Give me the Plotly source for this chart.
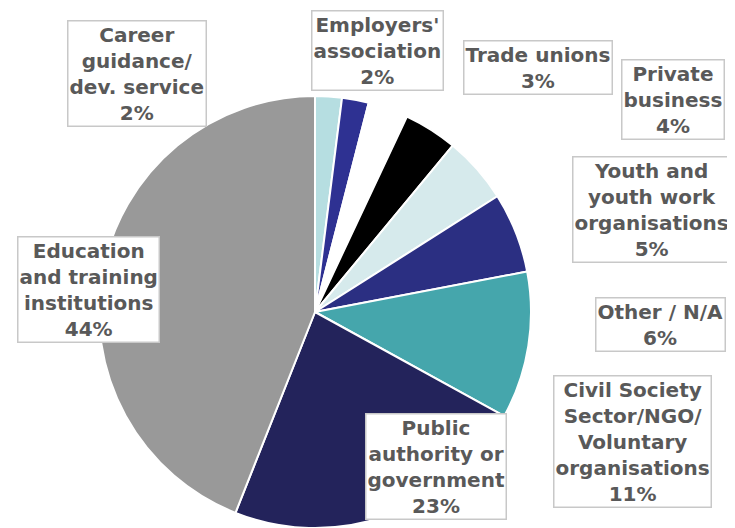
import plotly.graph_objects as go

categories = [
    "Career<br>guidance/<br>dev. service",
    "Employers'<br>association",
    "Trade unions",
    "Private<br>business",
    "Youth and<br>youth work<br>organisations",
    "Other / N/A",
    "Civil Society<br>Sector/NGO/<br>Voluntary<br>organisations",
    "Public<br>authority or<br>government",
    "Education<br>and training<br>institutions",
]
values = [2, 2, 3, 4, 5, 6, 11, 23, 44]
colors = ["#b6dee1", "#2e3192", "#ffffff", "#000000", "#d6eaec",
          "#2b2f82", "#45a6ac", "#23235b", "#999999"]
# label box centres in page pixels (x, y from top)
label_pos = [(137, 73), (378, 50), (538, 67), (673, 99), (651, 210),
             (660, 324), (632, 441), (436, 466), (88, 289)]

OFF = 8  # page body margin
W, H = 735 - OFF, 528 - OFF
cx, cy, r = 315 - OFF, 312 - OFF, 216

fig = go.Figure(go.Pie(
    labels=categories,
    values=values,
    sort=False,
    direction="clockwise",
    rotation=0,
    marker=dict(colors=colors, line=dict(color="white", width=2)),
    textinfo="none",
    hoverinfo="label+percent",
    domain=dict(x=[(cx - r) / W, (cx + r) / W],
                y=[max(0, (H - cy - r) / H), min(1, (H - cy + r) / H)]),
    showlegend=False,
))

for lab, v, (px, py) in zip(categories, values, label_pos):
    fig.add_annotation(
        text=f"{lab}<br>{v}%",
        x=(px - OFF) / W, y=1 - (py - OFF) / H, xref="paper", yref="paper",
        xanchor="center", yanchor="middle", showarrow=False,
        font=dict(family="DejaVu Sans", size=20, color="#595959", weight="bold"),
        bgcolor="white", bordercolor="#c8c8c8", borderwidth=1.5, borderpad=1,
        align="center",
    )

fig.update_layout(
    width=W, height=H,
    margin=dict(l=0, r=0, t=0, b=0),
    paper_bgcolor="white", plot_bgcolor="white",
)
fig.write_html("out.html")
